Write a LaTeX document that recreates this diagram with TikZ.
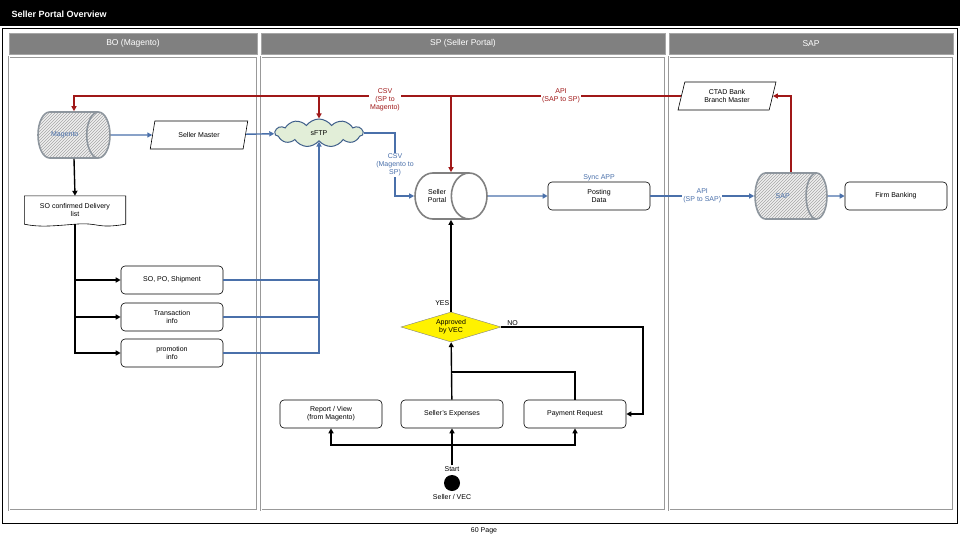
\documentclass[tikz,border=0pt]{standalone}
\usepackage{fontspec}
\setmainfont{Liberation Sans}
\usetikzlibrary{shapes.geometric,shapes.symbols,patterns,arrows.meta}

\definecolor{lanegray}{HTML}{808080}
\definecolor{flowred}{HTML}{A01818}
\definecolor{flowblue}{HTML}{4A70AA}
\definecolor{dbgray}{HTML}{8E969E}
\definecolor{cloudgreen}{HTML}{E2EED8}
\definecolor{cloudline}{HTML}{3F5F8A}

\tikzset{
  box/.style={draw, rounded corners=4pt, minimum width=102pt, minimum height=28pt,
    align=center, fill=white, line width=0.6pt},
  slantbox/.style={trapezium, trapezium left angle=78, trapezium right angle=102,
    trapezium stretches=true, draw, minimum width=98pt, minimum height=28pt,
    align=center, line width=0.6pt},
  dbnode/.style={cylinder, draw=dbgray, line width=1.6pt, aspect=1.8,
    minimum width=46pt, minimum height=72pt, align=center, anchor=shape center},
  hatched/.style={preaction={fill=gray!12}, pattern=north east lines, pattern color=gray!70},
  cloudnode/.style={cloud, cloud puffs=11, cloud puff arc=110, aspect=3.2,
    draw=cloudline, line width=1pt, fill=cloudgreen, minimum width=88pt, minimum height=28pt},
  decision/.style={diamond, aspect=3.3, draw=gray, fill=yellow, inner sep=0pt,
    minimum width=100pt, minimum height=30pt, align=center},
  lbl/.style={align=center, inner sep=1pt},
  lanehead/.style={fill=lanegray, draw=gray!70, minimum height=21pt, text=white,
    font=\fontsize{8.5}{10}\selectfont},
  lanebody/.style={draw=gray!80, double=white, double distance=1pt, line width=0.5pt},
  blackflow/.style={line width=1.4pt, -{Triangle[length=5pt,width=5pt]}},
  blackline/.style={line width=1.4pt},
  blueflow/.style={draw=flowblue, line width=1.4pt, -{Triangle[length=5pt,width=5pt]}},
  blueline/.style={draw=flowblue, line width=1.4pt},
  redflow/.style={draw=flowred, line width=1.4pt, -{Triangle[length=5pt,width=5pt]}},
  redline/.style={draw=flowred, line width=1.4pt}
}

\begin{document}
\begin{tikzpicture}[x=1pt, y=-1pt, font=\fontsize{7}{8}\selectfont]
  \useasboundingbox (0,0) rectangle (960,540);

  % frame and lanes
  \fill[black] (0,0) rectangle (960,26);
  \node[anchor=west, text=white, font=\bfseries\fontsize{9}{10}\selectfont] (title) at (8,14) {Seller Portal Overview};
  \draw[line width=1pt] (2,29) rectangle (957,523);
  \node[lanehead, minimum width=248pt] (bohead) at (133,43.5) {BO (Magento)};
  \node[lanehead, minimum width=404pt] (sphead) at (463,43.5) {SP (Seller Portal)};
  \node[lanehead, minimum width=284pt] (saphead) at (811,43.5) {SAP};
  \draw[lanebody] (9,57) rectangle (257,510);
  \draw[lanebody] (261,57) rectangle (665,510);
  \draw[lanebody] (669,57) rectangle (953,510);
  \node (page) at (484,531) {60 Page};

  % nodes
  \node[dbnode, hatched, text=flowblue] (magento) at (74,135) {Magento};
  \node[slantbox] (master) at (199,135) {Seller Master};
  \node[cloudnode] (sftp) at (319,133) {sFTP};
  \node[dbnode, draw=gray, fill=white] (portal) at (451,196) {Seller\\Portal};
  \node[box, label={[lbl, text=flowblue]above:Sync APP}] (posting) at (599,196) {Posting\\Data};
  \node[dbnode, hatched, text=flowblue] (sap) at (791,196) {SAP};
  \node[box] (firm) at (896,196) {Firm Banking};
  \node[slantbox] (ctad) at (727,96) {CTAD Bank\\Branch Master};
  \node[minimum width=101pt, minimum height=28pt, align=center] (so) at (75,210) {SO confirmed Delivery\\list};
  \draw[line width=0.6pt] (so.south west) -- (so.north west) -- (so.north east) -- (so.south east)
    .. controls +(-30pt,-5pt) and +(25pt,2pt) .. (so.south)
    .. controls +(-25pt,-2pt) and +(15pt,-3pt) .. (so.south west);
  \node[box] (ship) at (172,280) {SO, PO, Shipment};
  \node[box] (trans) at (172,317) {Transaction\\info};
  \node[box] (promo) at (172,353) {promotion\\info};
  \node[decision] (approve) at (451,327) {Approved\\by VEC};
  \node[box] (report) at (331,414) {Report / View\\(from Magento)};
  \node[box] (expense) at (452,414) {Seller's Expenses};
  \node[box] (payment) at (575,414) {Payment Request};
  \node[circle, fill=black, minimum size=16pt, inner sep=0pt] (start) at (452,483) {};
  \node[lbl] (starttxt) at (452,469) {Start};
  \node[lbl] (seller) at (452,497) {Seller / VEC};
  \coordinate (noturn) at (643,327);
  \coordinate (merge) at (452,372);
  \coordinate (bus) at (452,445);

  % red flows
  \draw[redflow] (ctad.west) -| (magento.shape center |- magento.north);
  \draw[redflow] (sftp.north |- ctad.west) -- (sftp.north);
  \draw[redflow] (portal.shape center |- ctad.west) -- (portal.shape center |- portal.north);
  \draw[redflow] (sap.shape center |- sap.north) |- (ctad.east);
  \node[lbl, fill=white, text=flowred] (csvout) at (385,100) {CSV\\(SP to\\Magento)};
  \node[lbl, fill=white, text=flowred] (apiin) at (561,96) {API\\(SAP to SP)};

  % blue flows
  \draw[blueflow] (magento) -- (master);
  \draw[blueflow] (master) -- (sftp);
  \draw[blueflow] (sftp.east) -| (395,165) |- (portal.west);
  \node[lbl, fill=white, text=flowblue] (csvin) at (395,165) {CSV\\(Magento to\\SP)};
  \draw[blueflow] (portal) -- (posting);
  \draw[blueflow] (posting) -- node[lbl, fill=white, text=flowblue] {API\\(SP to SAP)} (sap);
  \draw[blueflow] (sap) -- (firm);
  \draw[blueline] (ship.east) -- (ship.east -| sftp.south);
  \draw[blueline] (trans.east) -- (trans.east -| sftp.south);
  \draw[blueflow] (promo.east) -| (sftp.south);

  % black flows
  \draw[blackflow] (magento.shape center |- magento.south) -- (so.north);
  \draw[blackflow] (so.south) |- (ship.west);
  \draw[blackflow] (so.south) |- (trans.west);
  \draw[blackflow] (so.south) |- (promo.west);
  \draw[blackflow] (approve.north) -- node[pos=0.1, left, lbl] {YES} (portal.shape center |- portal.south);
  \draw[blackflow] (approve.east) -- node[pos=0.08, above, lbl] {NO} (noturn) |- (payment.east);
  \draw[blackflow] (expense) -- (approve);
  \draw[blackline] (payment.north) |- (merge);
  \draw[blackline] (starttxt) -- (bus);
  \draw[blackflow] (bus) -| (report.south);
  \draw[blackflow] (bus) -| (payment.south);
  \draw[blackflow] (bus) -- (expense.south);
\end{tikzpicture}
\end{document}
